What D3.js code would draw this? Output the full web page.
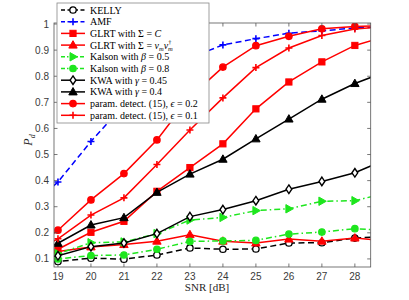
<!DOCTYPE html>
<html>
<head>
<meta charset="utf-8">
<script src="https://cdn.jsdelivr.net/npm/d3@7"></script>
<style>
  html, body { margin: 0; padding: 0; background: #fff; }
  svg { display: block; }
</style>
</head>
<body>
<svg id="chart" width="409" height="300"></svg>
<script>
// ── Data (18 and 29 only feed the clipped line ends) ──────────────────────────
const snr      = [18, 19, 20, 21, 22, 23, 24, 25, 26, 27, 28, 29]
const kelly    = [0.075, 0.09, 0.103, 0.099, 0.115, 0.142, 0.137, 0.138, 0.161, 0.162, 0.18, 0.186]
const amf      = [0.28, 0.395, 0.55, 0.69, 0.79, 0.87, 0.92, 0.944, 0.965, 0.974, 0.985, 0.99]
const glrtC    = [0.09, 0.137, 0.202, 0.244, 0.359, 0.45, 0.541, 0.675, 0.778, 0.855, 0.918, 0.955]
const glrtV    = [0.11, 0.128, 0.146, 0.155, 0.168, 0.193, 0.168, 0.161, 0.176, 0.168, 0.18, 0.169]
const kalson05 = [0.09, 0.12, 0.162, 0.165, 0.197, 0.249, 0.259, 0.285, 0.292, 0.321, 0.323, 0.354]
const kalson08 = [0.085, 0.10, 0.113, 0.115, 0.137, 0.167, 0.169, 0.171, 0.195, 0.203, 0.216, 0.208]
const kwa045   = [0.09, 0.112, 0.147, 0.161, 0.197, 0.262, 0.289, 0.323, 0.367, 0.397, 0.43, 0.484]
const kwa04    = [0.11, 0.16, 0.23, 0.258, 0.355, 0.425, 0.482, 0.56, 0.636, 0.712, 0.772, 0.82]
const param02  = [0.12, 0.21, 0.326, 0.427, 0.556, 0.72, 0.835, 0.917, 0.953, 0.982, 0.991, 0.995]
const param01  = [0.11, 0.177, 0.268, 0.334, 0.462, 0.594, 0.717, 0.833, 0.908, 0.956, 0.981, 0.99]

const xTicks = [19, 20, 21, 22, 23, 24, 25, 26, 27, 28]
const yTicks = [0.1, 0.2, 0.3, 0.4, 0.5, 0.6, 0.7, 0.8, 0.9, 1]

const RED = '#ff0000', BLUE = '#0000ff', GREEN = '#1ee61e', BLACK = '#000000'
const DASH = '6,3.5', DASHDOT = '6,3,1.5,3'

// label parts: [text, italic, font-size (null = normal), dx, dy]
const series = [
  { values: kelly,    color: BLACK, dash: DASH,    marker: 'circle',   fill: '#fff',
    label: [['KELLY']] },
  { values: amf,      color: BLUE,  dash: DASH,    marker: 'plus',     fill: BLUE,
    label: [['AMF']] },
  { values: glrtC,    color: RED,   dash: null,    marker: 'square',   fill: RED,
    label: [['GLRT with Σ = '], ['C', true]] },
  { values: glrtV,    color: RED,   dash: null,    marker: 'triangle', fill: RED,
    label: [['GLRT with Σ = '], ['v', true], ['m', true, 6.5, 0, 2], ['v', true, null, 0, -2],
            ['†', false, 6.5, 0, -5], ['m', true, 6.5, -3.5, 7.5], ['', false, null, 0, -2.5]] },
  { values: kalson05, color: GREEN, dash: DASHDOT, marker: 'right',    fill: GREEN,
    label: [['Kalson with '], ['β', true], [' = 0.5']] },
  { values: kalson08, color: GREEN, dash: DASHDOT, marker: 'circle',   fill: GREEN,
    label: [['Kalson with '], ['β', true], [' = 0.8']] },
  { values: kwa045,   color: BLACK, dash: null,    marker: 'diamond',  fill: '#fff',
    label: [['KWA with '], ['γ', true], [' = 0.45']] },
  { values: kwa04,    color: BLACK, dash: null,    marker: 'triangle', fill: BLACK,
    label: [['KWA with '], ['γ', true], [' = 0.4']] },
  { values: param02,  color: RED,   dash: null,    marker: 'circle',   fill: RED,
    label: [['param. detect. (15), '], ['ϵ', true], [' = 0.2']] },
  { values: param01,  color: RED,   dash: null,    marker: 'plus',     fill: RED,
    label: [['param. detect. (15), '], ['ϵ', true], [' = 0.1']] },
]

// ── Layout ────────────────────────────────────────────────────────────────────
const plot = { left: 54, right: 370.7, top: 23, bottom: 267 }
const svg = d3.select('#chart')

const x = d3.scaleLinear().domain([18.88, 28.48]).range([plot.left, plot.right])
const y = d3.scaleLinear().domain([0.069, 1.004]).range([plot.bottom, plot.top])

const AXIS = '#555', TICKTXT = '#3a3a3a'
const SANS = 'Liberation Sans, Arial, Helvetica, sans-serif'
const SERIF = 'Liberation Serif, Times New Roman, serif'

svg.append('defs').append('clipPath').attr('id', 'clip')
  .append('rect')
  .attr('x', plot.left).attr('y', plot.top)
  .attr('width', plot.right - plot.left).attr('height', plot.bottom - plot.top)

// ── Markers ───────────────────────────────────────────────────────────────────
function drawMarker(g, type, cx, cy, color, fill) {
  const s = 3.5
  if (type === 'circle') {
    g.append('circle').attr('cx', cx).attr('cy', cy).attr('r', 3.2)
      .attr('fill', fill).attr('stroke', color).attr('stroke-width', 1.3)
  } else if (type === 'square') {
    g.append('rect').attr('x', cx - 3.1).attr('y', cy - 3.1).attr('width', 6.2).attr('height', 6.2)
      .attr('fill', fill).attr('stroke', color).attr('stroke-width', 1)
  } else if (type === 'triangle') {
    g.append('path').attr('d', `M${cx},${cy - 4.4}L${cx + 4.2},${cy + 3}L${cx - 4.2},${cy + 3}Z`)
      .attr('fill', fill).attr('stroke', color).attr('stroke-width', 1)
  } else if (type === 'right') {
    g.append('path').attr('d', `M${cx + 4.4},${cy}L${cx - 3},${cy - 4.2}L${cx - 3},${cy + 4.2}Z`)
      .attr('fill', fill).attr('stroke', color).attr('stroke-width', 1)
  } else if (type === 'diamond') {
    g.append('path').attr('d', `M${cx},${cy - 4.3}L${cx + 2.9},${cy}L${cx},${cy + 4.3}L${cx - 2.9},${cy}Z`)
      .attr('fill', fill).attr('stroke', color).attr('stroke-width', 1.4)
  } else if (type === 'plus') {
    g.append('path').attr('d', `M${cx - s},${cy}H${cx + s}M${cx},${cy - s}V${cy + s}`)
      .attr('fill', 'none').attr('stroke', color).attr('stroke-width', 1.6)
  }
}

// ── Series ────────────────────────────────────────────────────────────────────
const line = d3.line().x((d, i) => x(snr[i])).y(d => y(d))
const plotG = svg.append('g').attr('clip-path', 'url(#clip)')

series.forEach(s => {
  plotG.append('path')
    .attr('d', line(s.values))
    .attr('fill', 'none')
    .attr('stroke', s.color)
    .attr('stroke-width', 1.5)
    .attr('stroke-dasharray', s.dash)
  s.values.forEach((v, i) => {
    if (snr[i] < 19 || snr[i] > 28) return
    drawMarker(plotG, s.marker, x(snr[i]), y(v), s.color, s.fill)
  })
})

// ── Axes box + ticks (inward, all four sides) ─────────────────────────────────
svg.append('rect')
  .attr('x', plot.left).attr('y', plot.top)
  .attr('width', plot.right - plot.left).attr('height', plot.bottom - plot.top)
  .attr('fill', 'none').attr('stroke', AXIS).attr('stroke-width', 0.8)

const TL = 3.5
const ticks = svg.append('g').attr('stroke', AXIS).attr('stroke-width', 0.8)
xTicks.forEach(t => {
  ticks.append('line').attr('x1', x(t)).attr('x2', x(t)).attr('y1', plot.bottom).attr('y2', plot.bottom - TL)
  ticks.append('line').attr('x1', x(t)).attr('x2', x(t)).attr('y1', plot.top).attr('y2', plot.top + TL)
})
yTicks.forEach(t => {
  ticks.append('line').attr('y1', y(t)).attr('y2', y(t)).attr('x1', plot.left).attr('x2', plot.left + TL)
  ticks.append('line').attr('y1', y(t)).attr('y2', y(t)).attr('x1', plot.right).attr('x2', plot.right - TL)
})

svg.append('g').selectAll('text').data(xTicks).join('text')
  .attr('x', d => x(d)).attr('y', plot.bottom + 13)
  .attr('text-anchor', 'middle')
  .attr('font-family', SANS).attr('font-size', 10).attr('fill', TICKTXT)
  .text(d => d)

svg.append('g').selectAll('text').data(yTicks).join('text')
  .attr('x', plot.left - 5).attr('y', d => y(d) + 3.5)
  .attr('text-anchor', 'end')
  .attr('font-family', SANS).attr('font-size', 10).attr('fill', TICKTXT)
  .text(d => d)

// axis labels
svg.append('text')
  .attr('x', 207).attr('y', 291)
  .attr('text-anchor', 'middle')
  .attr('font-family', SERIF).attr('font-size', 11).attr('fill', '#262626')
  .text('SNR [dB]')

const yl = svg.append('text')
  .attr('transform', 'translate(32,140) rotate(-90)')
  .attr('text-anchor', 'middle')
  .attr('font-family', SERIF).attr('font-size', 12).attr('fill', '#262626')
yl.append('tspan').attr('font-style', 'italic').text('P')
yl.append('tspan').attr('font-style', 'italic').attr('font-size', 8).attr('dy', 2.5).text('d')

// ── Legend ────────────────────────────────────────────────────────────────────
const leg = { x: 57, y: 3, w: 152, h: 120, row0: 10, step: 11.7 }
const legG = svg.append('g')
legG.append('rect')
  .attr('x', leg.x).attr('y', leg.y).attr('width', leg.w).attr('height', leg.h)
  .attr('fill', '#fff').attr('stroke', '#888').attr('stroke-width', 0.8)

series.forEach((s, i) => {
  const cy = leg.row0 + i * leg.step
  legG.append('line')
    .attr('x1', 61).attr('x2', 85).attr('y1', cy).attr('y2', cy)
    .attr('stroke', s.color).attr('stroke-width', 1.5)
    .attr('stroke-dasharray', s.dash ? (s.dash === DASH ? '4,2.5' : '4,2,1.5,2') : null)
  drawMarker(legG, s.marker, 73, cy, s.color, s.fill)

  const t = legG.append('text')
    .attr('x', 90).attr('y', cy + 3.5)
    .attr('font-family', SERIF).attr('font-size', 10).attr('fill', '#000')
  s.label.forEach(([txt, italic, size, dx, dy]) => {
    const sp = t.append('tspan').text(txt)
    if (italic) sp.attr('font-style', 'italic')
    if (size) sp.attr('font-size', size)
    if (dx) sp.attr('dx', dx)
    if (dy) sp.attr('dy', dy)
  })
})
</script>
</body>
</html>
